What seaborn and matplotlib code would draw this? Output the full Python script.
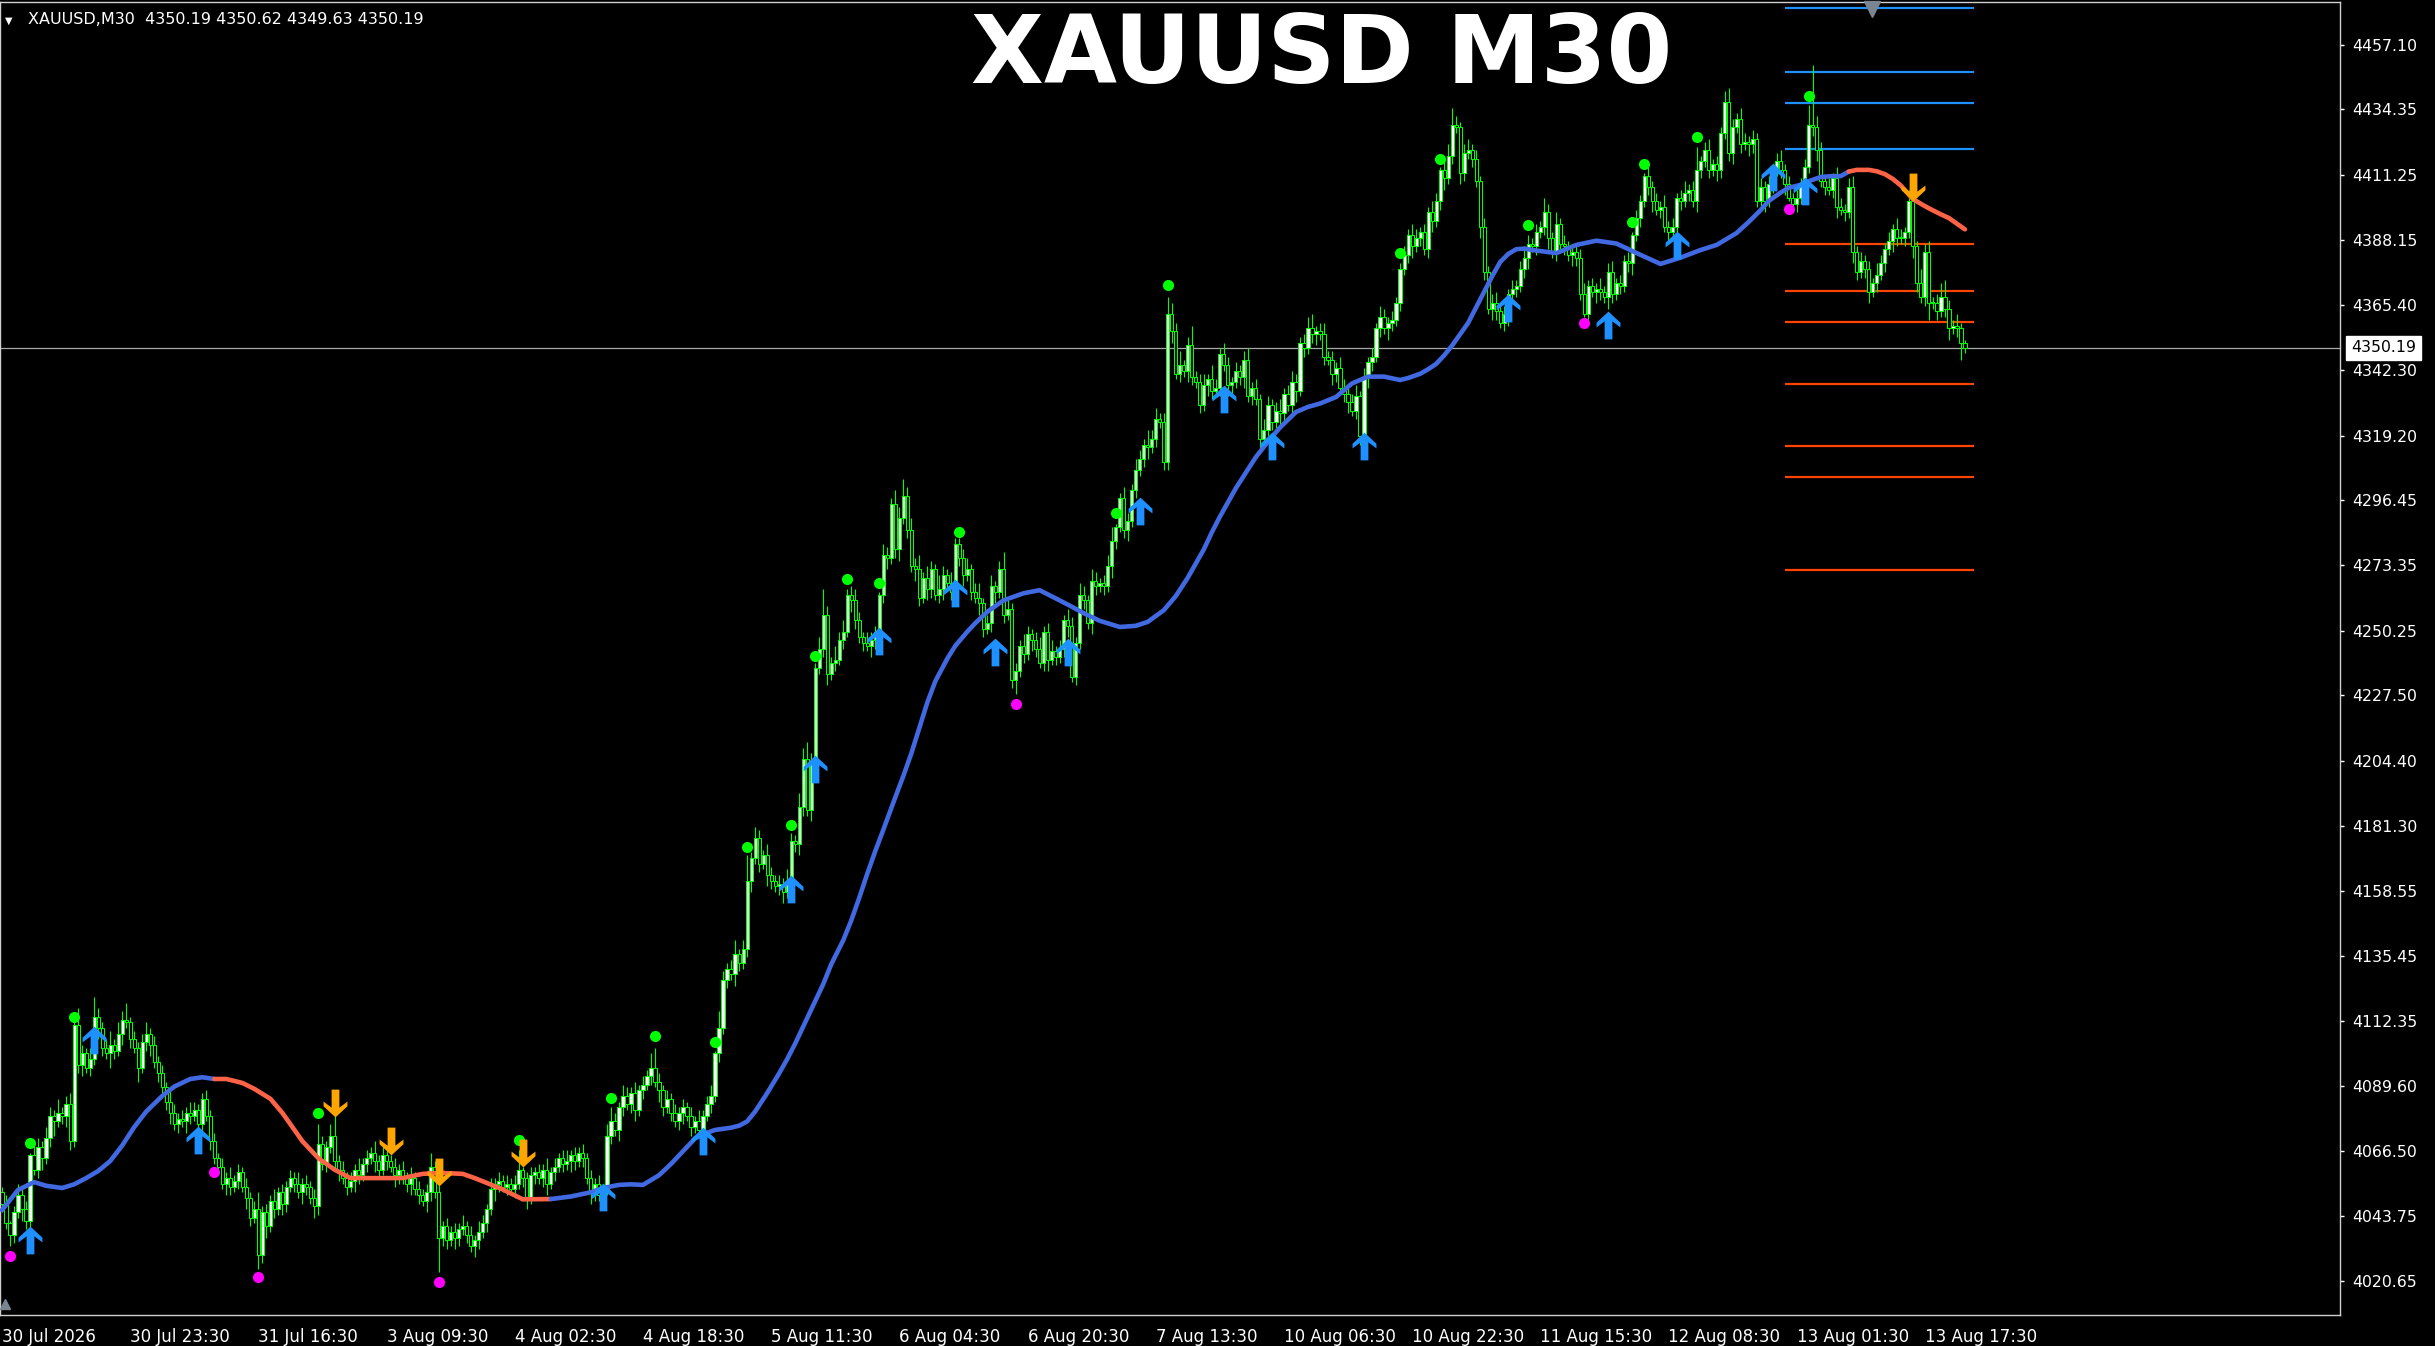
import numpy as np
import pandas as pd
import matplotlib.pyplot as plt
import seaborn as sns
from matplotlib.path import Path

# header / title text
symbol_header = "XAUUSD,M30  4350.19 4350.62 4349.63 4350.19"
title_text = "XAUUSD M30"
last_price = 4350.19
first_open = 4052

# close of every M30 bar
closes = [
    4048, 4041, 4037, 4045, 4051, 4046, 4042, 4065, 4060, 4068,
    4064, 4071, 4079, 4077, 4080, 4079, 4083, 4070, 4111, 4097,
    4101, 4096, 4099, 4114, 4110, 4103, 4101, 4104, 4102, 4108,
    4113, 4112, 4106, 4103, 4096, 4105, 4108, 4104, 4098, 4094,
    4089, 4084, 4080, 4076, 4078, 4077, 4080, 4079, 4081, 4076,
    4085, 4079, 4070, 4064, 4061, 4055, 4057, 4054, 4056, 4059,
    4054, 4050, 4043, 4046, 4030, 4045, 4040, 4049, 4046, 4052,
    4048, 4054, 4057, 4055, 4052, 4055, 4054, 4050, 4047, 4069,
    4062, 4068, 4072, 4063, 4060, 4057, 4054, 4056, 4060, 4058,
    4062, 4064, 4066, 4063, 4060, 4065, 4063, 4061, 4058, 4060,
    4057, 4055, 4057, 4053, 4051, 4049, 4052, 4061, 4052, 4036,
    4040, 4035, 4038, 4036, 4039, 4040, 4037, 4033, 4035, 4038,
    4041, 4046, 4053, 4055, 4056, 4054, 4055, 4053, 4055, 4060,
    4057, 4050, 4058, 4059, 4057, 4060, 4055, 4059, 4061, 4064,
    4062, 4063, 4065, 4063, 4066, 4064, 4057, 4052, 4055, 4051,
    4053, 4072, 4077, 4074, 4082, 4086, 4083, 4087, 4081, 4088,
    4090, 4093, 4096, 4091, 4088, 4082, 4085, 4080, 4077, 4080,
    4082, 4079, 4075, 4077, 4074, 4079, 4083, 4086, 4101, 4110,
    4127, 4131, 4129, 4136, 4133, 4138, 4162, 4170, 4177, 4168,
    4171, 4164, 4162, 4160, 4161, 4158, 4162, 4176, 4175, 4188,
    4205, 4187, 4204, 4237, 4244, 4256, 4235, 4239, 4240, 4247,
    4250, 4263, 4261, 4254, 4248, 4246, 4245, 4247, 4250, 4263,
    4277, 4276, 4295, 4279, 4290, 4298, 4286, 4273, 4272, 4262,
    4269, 4265, 4272, 4263, 4265, 4270, 4267, 4264, 4281, 4276,
    4270, 4272, 4264, 4262, 4260, 4251, 4253, 4266, 4264, 4272,
    4256, 4258, 4233, 4236, 4245, 4242, 4249, 4247, 4244, 4239,
    4250, 4240, 4243, 4241, 4244, 4254, 4252, 4234, 4246, 4263,
    4261, 4253, 4268, 4266, 4267, 4266, 4273, 4282, 4287, 4297,
    4286, 4289, 4300, 4307, 4311, 4316, 4315, 4318, 4325, 4324,
    4310, 4362, 4356, 4341, 4344, 4342, 4351, 4340, 4338, 4330,
    4337, 4339, 4335, 4336, 4348, 4344, 4337, 4338, 4342, 4340,
    4346, 4333, 4336, 4332, 4318, 4321, 4330, 4324, 4328, 4327,
    4334, 4330, 4338, 4335, 4352, 4350, 4357, 4355, 4356, 4355,
    4347, 4346, 4341, 4343, 4336, 4334, 4331, 4328, 4333, 4319,
    4340, 4345, 4347, 4357, 4361, 4357, 4359, 4360, 4366, 4378,
    4383, 4390, 4386, 4389, 4391, 4385, 4398, 4395, 4402, 4413,
    4410, 4418, 4429, 4428, 4412, 4419, 4420, 4417, 4409, 4393,
    4377, 4364, 4366, 4363, 4359, 4362, 4369, 4371, 4372, 4378,
    4382, 4387, 4386, 4391, 4393, 4398, 4389, 4384, 4394, 4387,
    4386, 4383, 4384, 4382, 4369, 4362, 4372, 4370, 4371, 4370,
    4368, 4377, 4369, 4373, 4372, 4381, 4380, 4390, 4396, 4402,
    4411, 4407, 4402, 4399, 4400, 4393, 4391, 4393, 4403, 4402,
    4405, 4406, 4402, 4413, 4416, 4420, 4413, 4415, 4413, 4426,
    4437, 4419, 4428, 4431, 4422, 4423, 4422, 4424, 4402, 4407,
    4402, 4408, 4413, 4416, 4413, 4408, 4403, 4401, 4403, 4408,
    4414, 4429, 4428, 4420, 4409, 4407, 4406, 4410, 4400, 4399,
    4398, 4407, 4384, 4377, 4381, 4378, 4370, 4373, 4376, 4380,
    4385, 4388, 4392, 4389, 4389, 4391, 4402, 4386, 4373, 4368,
    4384, 4366, 4366, 4363, 4368, 4364, 4357, 4358, 4357, 4352,
    4350.19,
]

# wick length above / below the body
upper_wick = [
    2, 3, 1, 2, 4, 2, 3, 1, 4, 3,
    2, 4, 3, 2, 5, 2, 3, 4, 1, 6,
    3, 2, 4, 7, 3, 2, 3, 5, 2, 4,
    3, 6, 2, 3, 2, 3, 4, 2, 3, 2,
    3, 2, 4, 3, 2, 3, 2, 4, 3, 2,
    2, 3, 2, 3, 2, 3, 2, 4, 2, 3,
    2, 3, 2, 3, 6, 2, 3, 2, 4, 2,
    3, 2, 3, 2, 4, 2, 3, 2, 3, 7,
    3, 2, 4, 7, 2, 3, 2, 3, 2, 4,
    2, 3, 2, 4, 2, 3, 2, 2, 3, 2,
    3, 2, 4, 2, 3, 2, 3, 5, 2, 3,
    2, 3, 2, 3, 2, 4, 2, 3, 2, 4,
    3, 2, 4, 2, 3, 2, 3, 2, 3, 7,
    1, 2, 3, 2, 3, 2, 4, 2, 3, 2,
    3, 4, 2, 3, 2, 3, 2, 3, 2, 3,
    2, 4, 5, 3, 2, 4, 3, 2, 4, 2,
    3, 2, 5, 7, 3, 2, 3, 2, 3, 2,
    3, 2, 3, 2, 4, 2, 3, 4, 1, 6,
    3, 2, 3, 5, 2, 3, 9, 2, 4, 3,
    2, 4, 3, 2, 3, 2, 4, 3, 2, 5,
    4, 6, 3, 2, 4, 9, 3, 2, 5, 3,
    4, 2, 3, 4, 3, 2, 4, 3, 2, 1,
    4, 3, 2, 5, 4, 6, 3, 4, 3, 5,
    2, 4, 3, 2, 5, 3, 2, 4, 2, 2,
    3, 4, 2, 3, 5, 2, 3, 4, 2, 3,
    6, 3, 2, 3, 2, 4, 3, 2, 3, 4,
    2, 3, 4, 2, 3, 2, 4, 3, 2, 4,
    3, 2, 4, 3, 2, 3, 4, 5, 1, 2,
    4, 3, 2, 4, 3, 2, 5, 3, 4, 2,
    3, 6, 4, 3, 5, 2, 3, 7, 2, 3,
    4, 2, 5, 3, 2, 4, 3, 2, 3, 2,
    3, 4, 2, 3, 2, 4, 3, 2, 3, 4,
    2, 3, 4, 3, 2, 3, 4, 5, 2, 3,
    4, 2, 3, 2, 4, 3, 2, 3, 4, 2,
    3, 2, 3, 2, 4, 3, 2, 3, 2, 2,
    3, 2, 4, 3, 2, 3, 2, 4, 3, 1,
    3, 4, 6, 3, 2, 3, 4, 2, 3, 2,
    3, 2, 3, 4, 2, 3, 2, 3, 2, 3,
    4, 3, 2, 3, 2, 5, 3, 2, 4, 2,
    3, 2, 3, 2, 3, 4, 2, 3, 2, 4,
    2, 3, 4, 2, 3, 2, 3, 1, 3, 2,
    1, 3, 2, 3, 2, 4, 2, 3, 2, 3,
    4, 2, 3, 8, 2, 3, 4, 2, 3, 2,
    4, 5, 3, 2, 4, 3, 2, 3, 2, 3,
    2, 3, 2, 3, 4, 2, 3, 2, 3, 2,
    3, 7, 21, 4, 3, 2, 3, 2, 4, 3,
    2, 3, 4, 2, 3, 2, 3, 2, 4, 3,
    2, 3, 2, 4, 3, 2, 4, 0, 2, 5,
    3, 4, 2, 3, 5, 6, 3, 2, 4, 2,
    1,
]
lower_wick = [
    3, 2, 4, 3, 2, 4, 3, 3, 2, 3,
    4, 2, 3, 5, 2, 3, 4, 3, 2, 3,
    4, 2, 3, 2, 4, 3, 2, 5, 3, 2,
    4, 2, 3, 2, 5, 2, 3, 4, 2, 3,
    2, 3, 4, 2, 3, 2, 4, 3, 2, 3,
    4, 2, 3, 2, 3, 2, 4, 3, 2, 3,
    2, 4, 3, 2, 5, 3, 4, 2, 3, 2,
    4, 3, 2, 3, 2, 4, 3, 2, 4, 3,
    2, 3, 2, 3, 4, 2, 3, 2, 4, 3,
    2, 3, 2, 4, 3, 2, 3, 2, 4, 3,
    2, 3, 4, 2, 3, 2, 4, 3, 2, 12,
    3, 3, 2, 4, 3, 2, 3, 2, 4, 3,
    2, 3, 2, 4, 3, 2, 3, 2, 3, 2,
    3, 4, 2, 3, 2, 3, 4, 2, 3, 2,
    3, 2, 4, 3, 2, 3, 2, 4, 3, 2,
    3, 2, 3, 2, 4, 3, 2, 3, 4, 2,
    3, 2, 3, 2, 4, 3, 2, 3, 2, 3,
    4, 2, 3, 2, 3, 4, 2, 3, 2, 3,
    2, 3, 2, 4, 3, 2, 3, 4, 2, 3,
    2, 4, 3, 2, 3, 4, 2, 2, 3, 4,
    3, 2, 4, 3, 2, 3, 4, 2, 3, 2,
    3, 2, 4, 3, 2, 3, 2, 4, 3, 2,
    3, 4, 2, 3, 4, 2, 3, 2, 4, 3,
    2, 4, 3, 2, 3, 4, 2, 3, 2, 3,
    4, 2, 3, 2, 4, 3, 2, 3, 4, 2,
    3, 2, 3, 5, 2, 3, 2, 4, 3, 2,
    3, 4, 2, 3, 2, 3, 4, 2, 3, 2,
    3, 2, 4, 3, 2, 3, 2, 4, 3, 2,
    3, 4, 2, 3, 2, 3, 4, 2, 3, 2,
    3, 3, 4, 2, 3, 2, 4, 3, 2, 3,
    2, 4, 3, 2, 3, 2, 4, 3, 2, 3,
    4, 2, 3, 2, 4, 3, 2, 3, 2, 4,
    3, 2, 3, 4, 2, 3, 2, 3, 4, 2,
    3, 2, 4, 3, 2, 3, 4, 2, 3, 3,
    2, 4, 3, 2, 3, 2, 4, 3, 2, 3,
    2, 3, 4, 2, 3, 2, 3, 4, 2, 3,
    4, 2, 3, 2, 4, 3, 2, 3, 2, 4,
    3, 2, 4, 3, 2, 3, 4, 2, 3, 2,
    3, 4, 2, 3, 2, 3, 4, 2, 3, 2,
    3, 2, 4, 3, 2, 1, 3, 2, 4, 3,
    2, 4, 3, 2, 3, 2, 3, 4, 2, 3,
    2, 3, 4, 2, 3, 2, 3, 2, 4, 3,
    2, 3, 2, 4, 3, 2, 3, 2, 4, 3,
    2, 3, 4, 2, 3, 2, 4, 3, 2, 3,
    4, 2, 3, 2, 3, 4, 1, 2, 3, 2,
    3, 2, 3, 4, 2, 3, 2, 3, 4, 2,
    3, 2, 4, 3, 2, 3, 4, 2, 3, 2,
    3, 2, 4, 3, 2, 3, 2, 4, 3, 2,
    3, 6, 2, 3, 2, 3, 4, 2, 3, 6,
    2,
]

# smoothed trend line, points read along the curve, and the bars where it is red
ma_bars = [0, 4, 8, 11, 15, 18, 21, 24, 27, 30, 33, 36, 40, 43, 47, 50, 53, 56, 60,
           63, 67, 70, 72, 75, 79, 81, 83, 87, 94, 100, 105, 110, 115, 118, 121,
           125, 130, 137, 142, 147, 150, 154, 157, 160, 164, 167, 170, 173, 176,
           178, 182, 184, 186, 188, 191, 194, 196, 198, 200, 202, 205, 207, 210,
           212, 214, 216, 218, 220, 223, 225, 227, 229, 231, 233, 236, 238, 241,
           243, 246, 250, 255, 259, 264, 267, 270, 274, 279, 283, 286, 290, 293,
           296, 300, 302, 304, 308, 313, 316, 319, 323, 326, 329, 333, 337, 341,
           345, 349, 351, 354, 356, 358, 360, 362, 364, 366, 368, 370, 372, 374,
           376, 378, 380, 382, 388, 393, 398, 403, 409, 414, 419, 424, 428, 433,
           436, 439, 441, 444, 446, 449, 451, 454, 457, 459, 461, 463, 466, 468,
           470, 472, 474, 477, 480, 482, 484, 486, 488, 490]
ma_values = [4045.7, 4052.8, 4055.6, 4054.3, 4053.5, 4054.8, 4057.0, 4059.5, 4063.0,
             4068.5, 4075.0, 4080.5, 4086.0, 4089.3, 4092.0, 4092.6, 4092.0, 4092.0,
             4090.6, 4088.5, 4085.0, 4080.0, 4076.0, 4070.0, 4064.0, 4062.0, 4060.0,
             4057.0, 4057.0, 4057.0, 4058.5, 4058.8, 4058.5, 4057.0, 4055.3, 4053.0,
             4049.5, 4049.6, 4050.5, 4052.0, 4053.5, 4054.6, 4054.8, 4054.6, 4058.0,
             4062.0, 4066.5, 4071.0, 4073.0, 4074.0, 4074.8, 4075.5, 4077.0, 4080.5,
             4087.0, 4094.0, 4099.0, 4104.5, 4110.5, 4116.5, 4125.5, 4132.5, 4141.0,
             4148.0, 4156.0, 4164.5, 4172.5, 4180.0, 4191.5, 4199.0, 4207.0, 4216.0,
             4225.0, 4232.5, 4240.5, 4245.0, 4250.0, 4253.0, 4257.0, 4261.0, 4263.5,
             4264.6, 4261.0, 4258.8, 4256.5, 4253.8, 4251.6, 4252.0, 4253.4, 4257.5,
             4262.5, 4269.0, 4279.0, 4285.0, 4290.5, 4300.6, 4311.6, 4317.0, 4322.0,
             4327.5, 4329.3, 4330.5, 4332.8, 4337.6, 4340.0, 4340.0, 4338.8, 4339.5,
             4341.0, 4342.6, 4344.5, 4347.5, 4351.0, 4355.0, 4359.0, 4364.5, 4370.0,
             4375.5, 4380.5, 4383.3, 4385.0, 4385.2, 4384.7, 4383.6, 4386.5, 4388.0,
             4387.0, 4383.0, 4379.8, 4382.0, 4384.7, 4386.5, 4390.7, 4394.6, 4398.8,
             4402.0, 4405.0, 4406.7, 4407.7, 4409.0, 4410.5, 4410.8, 4410.8, 4412.4,
             4413.0, 4413.0, 4412.5, 4411.5, 4409.8, 4407.5, 4402.7, 4400.2, 4398.7,
             4397.3, 4396.0, 4394.0, 4392.0]
red_spans = [(53, 137), (461, 491)]

# signal markers
green_dot_bars = [7, 18, 79, 129, 152, 163, 178, 186, 197, 203, 211, 219, 239, 278,
                  291, 349, 359, 381, 407, 410, 423, 451]
green_dot_prices = [4069.3, 4113.8, 4080.1, 4070.4, 4085.3, 4107.3, 4105.0, 4173.9,
                    4181.7, 4241.5, 4268.5, 4267.0, 4285.3, 4292.0, 4372.5, 4383.5,
                    4416.7, 4393.5, 4394.5, 4415.0, 4424.7, 4439.0]
magenta_dot_bars = [2, 53, 64, 109, 253, 395, 446]
magenta_dot_prices = [4029.5, 4059.0, 4022.0, 4020.4, 4224.4, 4359.0, 4399.1]
up_arrow_bars = [7, 23, 49, 150, 175, 197, 203, 219, 238, 248, 266, 284, 305, 317,
                 340, 376, 401, 418, 442, 450]
up_arrow_prices = [4035.0, 4105.8, 4070.5, 4050.2, 4070.0, 4159.0, 4201.4, 4246.6,
                   4263.6, 4242.9, 4242.6, 4292.4, 4332.2, 4315.4, 4315.4, 4364.3,
                   4358.2, 4386.5, 4410.6, 4405.4]
down_arrow_bars = [83, 97, 109, 130, 477]
down_arrow_prices = [4083.5, 4070.0, 4059.0, 4066.0, 4406.8]

# horizontal levels at the right
blue_levels = [4470.0, 4447.6, 4436.7, 4420.2]
orange_levels = [4386.9, 4370.3, 4359.4, 4337.4, 4315.6, 4304.6, 4271.8]

price_ticks = [4457.10, 4434.35, 4411.25, 4388.15, 4365.40, 4342.30, 4319.20, 4296.45,
               4273.35, 4250.25, 4227.50, 4204.40, 4181.30, 4158.55, 4135.45, 4112.35,
               4089.60, 4066.50, 4043.75, 4020.65]
time_labels = ["30 Jul 2026", "30 Jul 23:30", "31 Jul 16:30", "3 Aug 09:30",
               "4 Aug 02:30", "4 Aug 18:30", "5 Aug 11:30", "6 Aug 04:30",
               "6 Aug 20:30", "7 Aug 13:30", "10 Aug 06:30", "10 Aug 22:30",
               "11 Aug 15:30", "12 Aug 08:30", "13 Aug 01:30", "13 Aug 17:30"]
bars_per_label = 32

# ---- build the OHLC table ----
n = min(len(closes), len(upper_wick), len(lower_wick))
df = pd.DataFrame({"close": closes[:n], "uw": upper_wick[:n], "lw": lower_wick[:n]})
df["open"] = [first_open] + list(df["close"].iloc[:-1])
df["high"] = df[["open", "close"]].max(axis=1) + df["uw"]
df["low"] = df[["open", "close"]].min(axis=1) - df["lw"]
df["bar"] = np.arange(n)
bull = df["close"] >= df["open"]

# ---- figure ----
sns.set_theme(style="dark", rc={"axes.facecolor": "black", "figure.facecolor": "black"})
plt.rcParams["font.family"] = ["DejaVu Sans"]

W, H = 2435, 1346
fig = plt.figure(figsize=(W / 100, H / 100), dpi=100)
ax = fig.add_axes([0, 1 - 1315 / H, 2340 / W, 1313 / H])
ax.set_facecolor("black")
ax.grid(False)
px_per_bar = 4.006
ax.set_xlim(-0.5, -0.5 + 2340 / px_per_bar)
ax.set_ylim(4008.66, 4472.28)

green = "#00FF00"

# bid line
ax.axhline(last_price, color="#A8A8A8", lw=0.9, zorder=1)

# levels
lv_start, lv_end = 445.1, 492.3
ax.hlines(blue_levels, lv_start, lv_end, colors="#1E90FF", lw=1.6, zorder=1.5)
ax.hlines(orange_levels, lv_start, lv_end, colors="#FF4500", lw=1.6, zorder=1.5)

# candles
ax.vlines(df["bar"], df["low"], df["high"], colors=green, lw=0.8, zorder=2)
body_h = (df["close"] - df["open"]).abs().clip(lower=0.35)
body_b = df[["open", "close"]].min(axis=1)
ax.bar(df["bar"], body_h, bottom=body_b, width=0.8,
       color=np.where(bull, "white", "black"), edgecolor=green, linewidth=0.75, zorder=2.2)

# trend line, blue when rising, red when falling
def is_red(b):
    return any(s <= b < e for s, e in red_spans)

colors = ["#FF6347" if is_red(b) else "#4169E1" for b in ma_bars]
start = 0
for i in range(1, len(ma_bars) + 1):
    if i == len(ma_bars) or colors[i] != colors[start]:
        stop = min(i + 1, len(ma_bars))
        sns.lineplot(x=ma_bars[start:stop], y=ma_values[start:stop], ax=ax,
                     color=colors[start], linewidth=3.3, sort=False,
                     estimator=None, zorder=3, solid_capstyle="round",
                     solid_joinstyle="round")
        start = i

# dots
sns.scatterplot(x=green_dot_bars, y=green_dot_prices, ax=ax, color=green, s=64,
                linewidth=0, zorder=4)
sns.scatterplot(x=magenta_dot_bars, y=magenta_dot_prices, ax=ax, color="#FF00FF", s=64,
                linewidth=0, zorder=4)

# arrows
up_verts = [(0, 0.5), (0.43, 0.1), (0.43, -0.07), (0.14, 0.15), (0.14, -0.5),
            (-0.14, -0.5), (-0.14, 0.15), (-0.43, -0.07), (-0.43, 0.1), (0, 0.5)]
up_path = Path(up_verts, closed=True)
down_path = Path([(x, -y) for x, y in up_verts], closed=True)
ax.scatter(up_arrow_bars, up_arrow_prices, marker=up_path, s=400, color="#1E90FF",
           linewidths=0, zorder=5)
ax.scatter(down_arrow_bars, down_arrow_prices, marker=down_path, s=400, color="#FFA500",
           linewidths=0, zorder=5)

# chart shift markers
ax.plot([1872 / 2340], [0.995], marker="v", ms=11, color="#7A8591",
        transform=ax.transAxes, clip_on=False, zorder=6)
ax.plot([0.002], [0.008], marker="^", ms=7, color="#7A8591",
        transform=ax.transAxes, clip_on=False, zorder=6)

# axes, ticks
for side in ["top", "right", "bottom", "left"]:
    ax.spines[side].set_color("#D0D0D0")
    ax.spines[side].set_linewidth(1.0)
    ax.spines[side].set_visible(True)

ax.yaxis.tick_right()
ax.set_yticks(price_ticks)
ax.set_yticklabels([f"{p:.2f}" for p in price_ticks])
ax.tick_params(axis="y", colors="white", length=3, width=1, direction="out",
               pad=6, labelsize=11.3, left=False, right=True)
ax.set_xticks([i * bars_per_label for i in range(len(time_labels))])
ax.set_xticklabels(time_labels)
ax.tick_params(axis="x", colors="white", length=3, width=1, direction="out",
               pad=6, labelsize=12)
for lab in ax.get_xticklabels():
    lab.set_horizontalalignment("left")
ax.set_xlabel("")
ax.set_ylabel("")

# current price box
ax.annotate(f"{last_price:.2f}", xy=(1.0, last_price), xycoords=("axes fraction", "data"),
            xytext=(8, 0), textcoords="offset points", color="black", fontsize=11.3,
            va="center", ha="left",
            bbox=dict(boxstyle="square,pad=0.3", fc="white", ec="white"),
            annotation_clip=False, zorder=7)

# header and title
fig.text(5 / W, 1 - 24 / H, "\u25bc", color="white", fontsize=7, va="baseline")
fig.text(28 / W, 1 - 24 / H, symbol_header, color="white", fontsize=11.5, va="baseline")
fig.text(1322 / W, 1 - 83 / H, title_text, color="white", fontsize=68,
         fontweight="bold", ha="center", va="baseline")

fig.savefig("out.png", dpi=100, facecolor="black")
